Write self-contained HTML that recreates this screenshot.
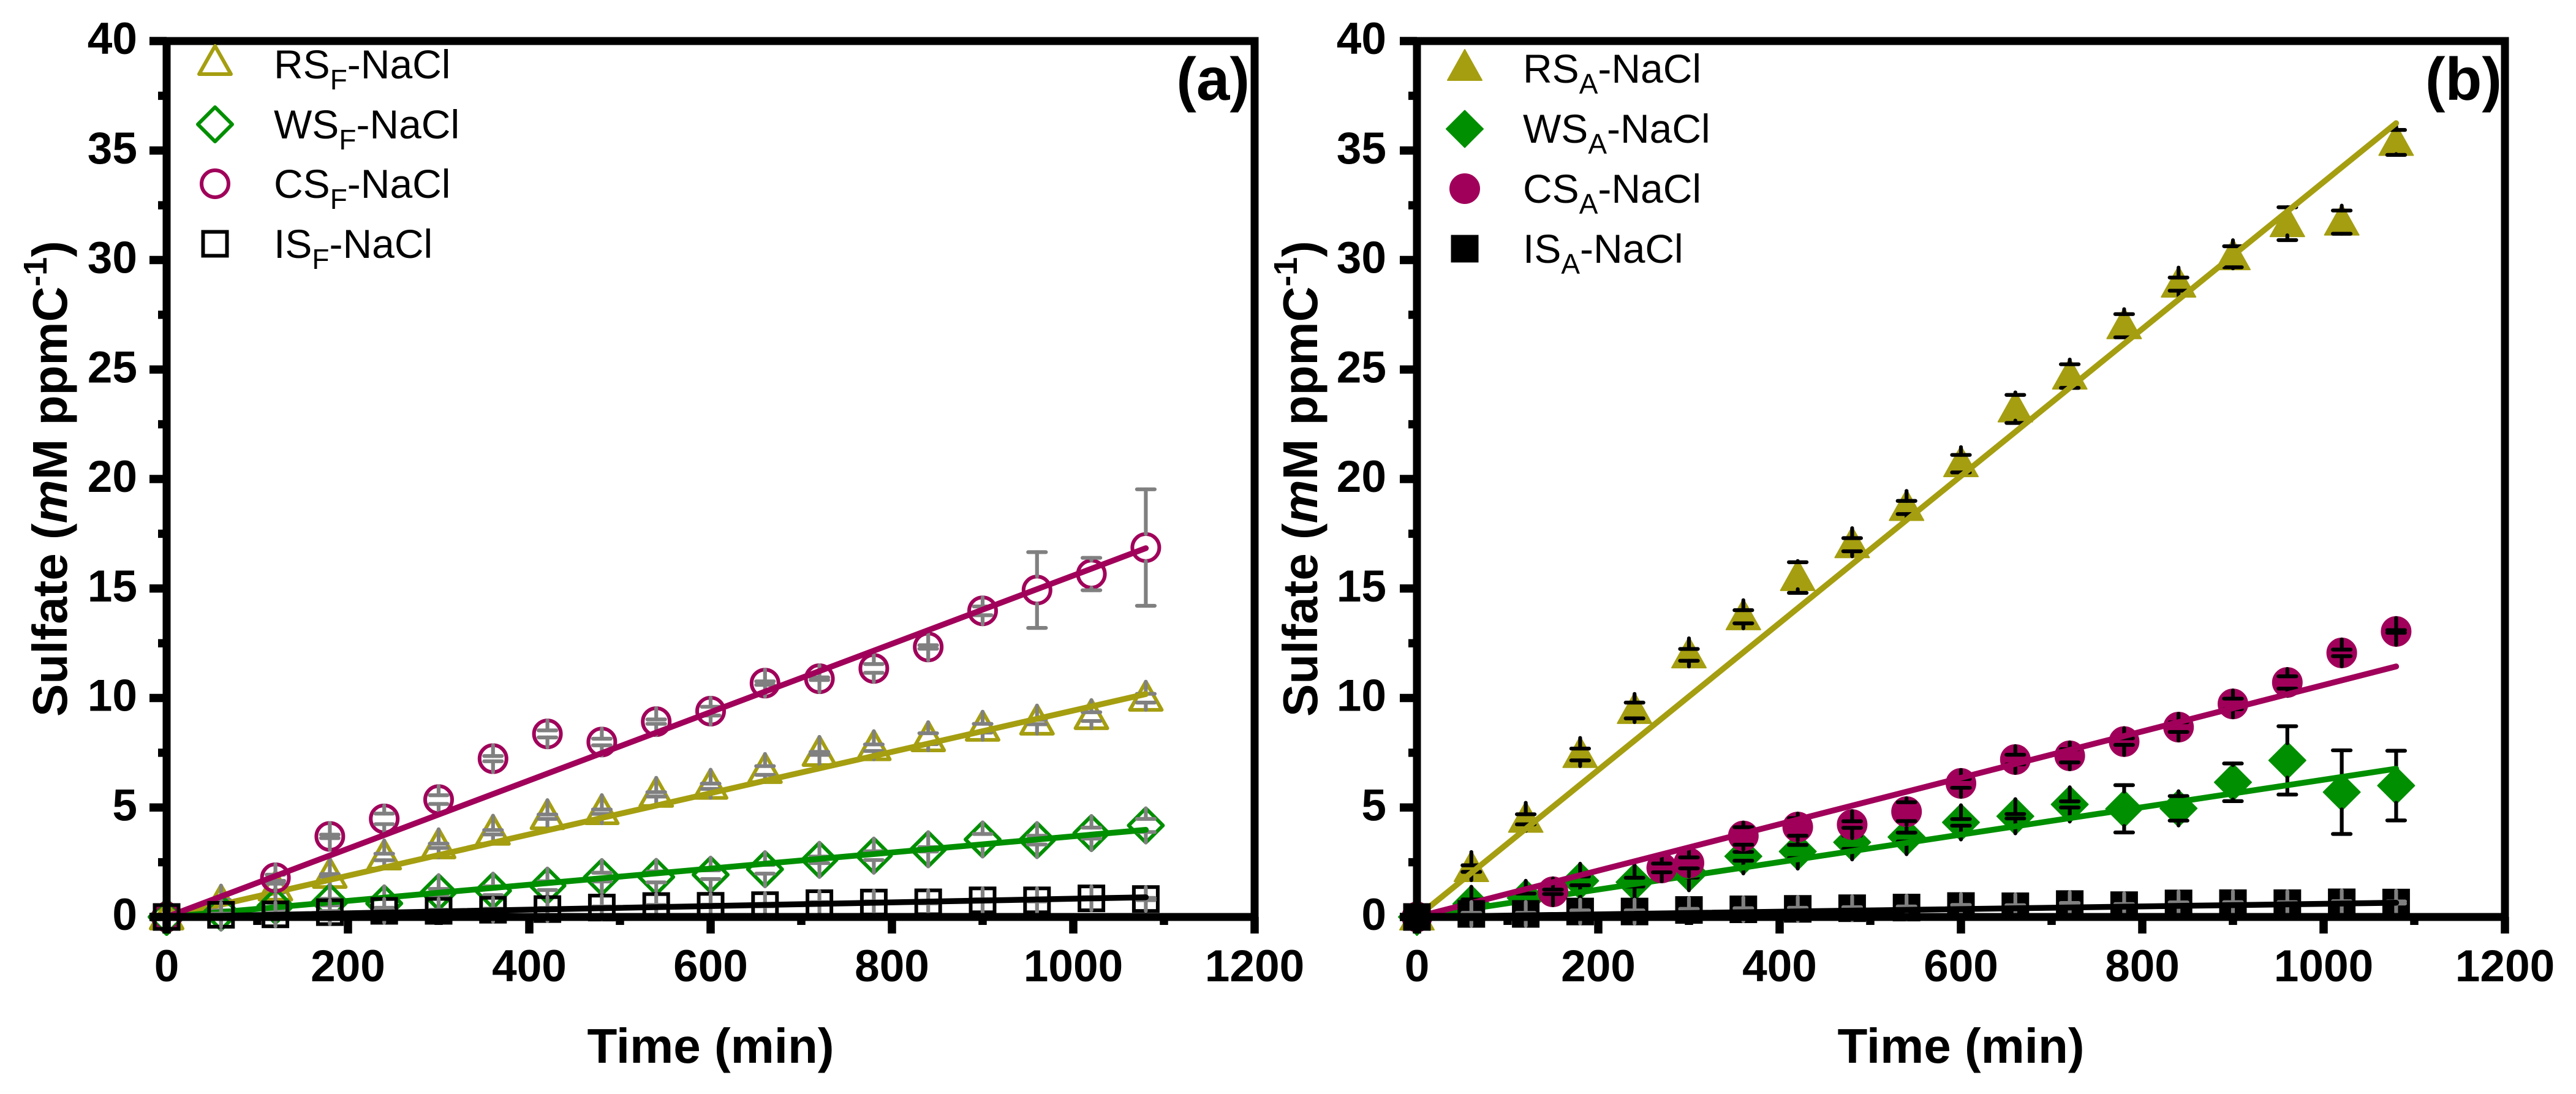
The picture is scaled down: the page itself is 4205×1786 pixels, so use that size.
<!DOCTYPE html>
<html lang="en">
<head>
<meta charset="utf-8">
<title>Sulfate versus time, panels a and b</title>
<style>
html,body{margin:0;padding:0;background:#fff;}
svg{display:block;}
text{font-family:"Liberation Sans",Arial,sans-serif;fill:#000;}
.tick{font-weight:700;font-size:73px;}
.title{font-weight:700;font-size:80px;}
.leg{font-size:66px;}
.panel{font-weight:700;font-size:98px;}
</style>
</head>
<body>
<svg id="chart" xmlns="http://www.w3.org/2000/svg" width="4205" height="1786" viewBox="0 0 4205 1786">
  <rect x="0" y="0" width="4205" height="1786" fill="#fff"/>
  <g id="panelA"></g>
  <g id="panelB"></g>

  <text class="title" x="1160" y="1735" text-anchor="middle">Time (min)</text>
  <text class="title" x="3201" y="1735" text-anchor="middle">Time (min)</text>
  <text class="title" transform="translate(109 781.5) rotate(-90)" text-anchor="middle">Sulfate (<tspan font-style="italic">m</tspan>M ppmC<tspan font-size="54" dy="-33">-1</tspan><tspan dy="33">)</tspan></text>
  <text class="title" transform="translate(2150 781.5) rotate(-90)" text-anchor="middle">Sulfate (<tspan font-style="italic">m</tspan>M ppmC<tspan font-size="54" dy="-33">-1</tspan><tspan dy="33">)</tspan></text>

  <text class="panel" x="2040" y="163" text-anchor="end">(a)</text>
  <text class="panel" x="4084" y="163" text-anchor="end">(b)</text>

  <g id="legendA">
    <text class="leg" x="447" y="128">RS<tspan font-size="46" dy="18">F</tspan><tspan dy="-18">-NaCl</tspan></text>
    <text class="leg" x="447" y="226">WS<tspan font-size="46" dy="18">F</tspan><tspan dy="-18">-NaCl</tspan></text>
    <text class="leg" x="447" y="323">CS<tspan font-size="46" dy="18">F</tspan><tspan dy="-18">-NaCl</tspan></text>
    <text class="leg" x="447" y="421">IS<tspan font-size="46" dy="18">F</tspan><tspan dy="-18">-NaCl</tspan></text>
  </g>
  <g id="legendB">
    <text class="leg" x="2486" y="135">RS<tspan font-size="46" dy="18">A</tspan><tspan dy="-18">-NaCl</tspan></text>
    <text class="leg" x="2486" y="233">WS<tspan font-size="46" dy="18">A</tspan><tspan dy="-18">-NaCl</tspan></text>
    <text class="leg" x="2486" y="331">CS<tspan font-size="46" dy="18">A</tspan><tspan dy="-18">-NaCl</tspan></text>
    <text class="leg" x="2486" y="429">IS<tspan font-size="46" dy="18">A</tspan><tspan dy="-18">-NaCl</tspan></text>
  </g>
</svg>

<script>
// ---------- axis tick data ----------
const xMajorTicks = [0, 200, 400, 600, 800, 1000, 1200];
const xMinorTicks = [100, 300, 500, 700, 900, 1100];
const yMajorTicks = [0, 5, 10, 15, 20, 25, 30, 35, 40];
const yMinorTicks = [2.5, 7.5, 12.5, 17.5, 22.5, 27.5, 32.5, 37.5];

// ---------- shared sampling times (min) ----------
const timeMin = [0, 60, 120, 180, 240, 300, 360, 420, 480, 540, 600, 660, 720, 780, 840, 900, 960, 1020, 1080];
const csFTime = [0, 120, 180, 240, 300, 360, 420, 480, 540, 600, 660, 720, 780, 840, 900, 960, 1020, 1080];
const csATime = [0, 150, 270, 300, 360, 420, 480, 540, 600, 660, 720, 780, 840, 900, 960, 1020, 1080];
const fitTime = [0, 1080];

// ---------- panel (a) series ----------
const rsFValues = [0, 0.68, 1.32, 1.9, 2.74, 3.25, 3.87, 4.58, 4.81, 5.6, 5.97, 6.69, 7.47, 7.73, 8.14, 8.62, 8.9, 9.15, 9.99];
const rsFErrors = [0, 0.1, 0.2, 0.06, 0.15, 0.1, 0.1, 0.1, 0.1, 0.1, 0.12, 0.2, 0.07, 0.15, 0.25, 0.2, 0.1, 0.2, 0.2];
const rsFFit = [0, 10.18];
const wsFValues = [0, 0.2, 0.5, 0.68, 0.62, 1.13, 1.2, 1.43, 1.82, 1.83, 1.93, 2.18, 2.61, 2.8, 3.09, 3.54, 3.51, 3.83, 4.18];
const wsFErrors = [0, 0.1, 0.15, 0.15, 0.2, 0.15, 0.2, 0.2, 0.2, 0.25, 0.2, 0.2, 0.15, 0.2, 0.1, 0.25, 0.2, 0.25, 0.3];
const wsFFit = [0, 3.98];
const csFValues = [0, 1.79, 3.68, 4.48, 5.36, 7.23, 8.36, 7.99, 8.92, 9.4, 10.68, 10.88, 11.35, 12.33, 13.98, 14.93, 15.66, 16.87];
const csFErrors = [0, 0.14, 0.08, 0.24, 0.2, 0.12, 0.16, 0.15, 0.1, 0.2, 0.08, 0.06, 0.2, 0.08, 0.2, 1.73, 0.74, 2.66];
const csFFit = [0, 16.84];
const isFValues = [0, 0.1, 0.12, 0.22, 0.28, 0.28, 0.33, 0.36, 0.43, 0.5, 0.51, 0.54, 0.63, 0.66, 0.67, 0.76, 0.76, 0.85, 0.82];
const isFErrors = [0, 0.05, 0.05, 0.05, 0.05, 0.05, 0.05, 0.05, 0.05, 0.05, 0.05, 0.05, 0.05, 0.05, 0.05, 0.05, 0.05, 0.05, 0.05];
const isFFit = [0, 0.9];

// ---------- panel (b) series ----------
const rsAValues = [0, 2.21, 4.46, 7.42, 9.43, 11.97, 13.71, 15.5, 17, 18.7, 20.7, 23.2, 24.7, 27, 28.9, 30.15, 31.66, 31.73, 35.37];
const rsAErrors = [0, 0.15, 0.23, 0.27, 0.36, 0.27, 0.3, 0.7, 0.3, 0.3, 0.4, 0.64, 0.54, 0.53, 0.3, 0.48, 0.75, 0.53, 0.57];
const rsAFit = [0, 36.25];
const wsAValues = [0, 0.6, 0.87, 1.65, 1.59, 2, 2.77, 2.99, 3.41, 3.65, 4.32, 4.6, 5.14, 4.94, 4.96, 6.15, 7.15, 5.7, 6];
const wsAErrors = [0, 0.2, 0.2, 0.2, 0.2, 0.2, 0.2, 0.3, 0.3, 0.2, 0.15, 0.1, 0.14, 1.08, 0.56, 0.86, 1.56, 1.91, 1.59];
const wsAFit = [0, 6.77];
const csAValues = [0, 1.15, 2.24, 2.47, 3.7, 4.11, 4.22, 4.81, 6.1, 7.19, 7.36, 8.01, 8.67, 9.73, 10.71, 12.06, 13.04];
const csAErrors = [0, 0.1, 0.2, 0.25, 0.4, 0.4, 0.15, 0.43, 0.2, 0.22, 0.3, 0.15, 0.22, 0.24, 0.28, 0.15, 0.06];
const csAFit = [0, 11.44];
const isAValues = [0, 0.14, 0.14, 0.25, 0.25, 0.32, 0.35, 0.37, 0.4, 0.43, 0.5, 0.49, 0.59, 0.54, 0.62, 0.63, 0.63, 0.67, 0.66];
const isAErrors = [0, 0.05, 0.05, 0.05, 0.05, 0.05, 0.05, 0.05, 0.05, 0.05, 0.05, 0.05, 0.05, 0.05, 0.05, 0.05, 0.05, 0.05, 0.05];
const isAFit = [0, 0.65];

const GOLD = '#a59e10', GREEN = '#008f00', PURPLE = '#a0005a', BLACK = '#000', GREY = '#808080';
const NS = 'http://www.w3.org/2000/svg';

function yScale(v) { return 1497 - v * 35.75; }
function make(tag, attrs, parent) {
  const e = document.createElementNS(NS, tag);
  for (const k in attrs) e.setAttribute(k, attrs[k]);
  parent.appendChild(e);
  return e;
}
function rule(x1, y1, x2, y2, w, color, cap, parent) {
  return make('line', {x1: x1, y1: y1, x2: x2, y2: y2, stroke: color, 'stroke-width': w, 'stroke-linecap': cap}, parent);
}

function drawMarker(kind, cx, cy, color, filled, parent) {
  const sw = filled ? 2 : 6;
  const style = {fill: filled ? color : 'none', stroke: color, 'stroke-width': sw, 'stroke-linejoin': 'round'};
  const inset = filled ? 1 : 3;
  let m;
  if (kind === 'triangle') {
    m = make('polygon', Object.assign({points: (cx) + ',' + (cy - 30 + inset) + ' ' + (cx + 29 - inset) + ',' + (cy + 22 - inset) + ' ' + (cx - 29 + inset) + ',' + (cy + 22 - inset)}, style), parent);
  } else if (kind === 'diamond') {
    const r = 31 - inset;
    m = make('polygon', Object.assign({points: cx + ',' + (cy - r) + ' ' + (cx + r) + ',' + cy + ' ' + cx + ',' + (cy + r) + ' ' + (cx - r) + ',' + cy}, style), parent);
  } else if (kind === 'circle') {
    m = make('circle', Object.assign({cx: cx, cy: cy, r: 25 - inset}, style), parent);
  } else {
    const h = 22.5 - inset;
    m = make('rect', Object.assign({x: cx - h, y: cy - h, width: 2 * h, height: 2 * h}, style), parent);
    m.setAttribute('stroke-linejoin', 'miter');
  }
  return m;
}
function markerExtent(kind) {
  if (kind === 'triangle') return [27, 19];
  if (kind === 'diamond') return [28, 28];
  if (kind === 'circle') return [22, 22];
  return [19.5, 19.5];
}

function drawSeries(parent, x0, key, kind, color, filled, errColor, times, values, errors, fit) {
  const xScale = function (t) { return x0 + t * 1.48; };
  const group = make('g', {}, parent);
  
  
  const ext = markerExtent(kind);
  values.forEach(function (v, i) {
    const cx = xScale(times[i]), cy = yScale(v), e = errors[i] * 35.75;
    const mark = drawMarker(kind, cx, cy, color, filled, group);
    
    
    if (errors[i] > 0) {
      const bar = make('g', {}, group);
      
      
      rule(cx, cy - ext[0], cx, cy - e, 6.2, errColor, 'round', bar);
      rule(cx, cy + ext[1], cx, cy + e, 6.2, errColor, 'round', bar);
      rule(cx - 14.5, cy - e, cx + 14.5, cy - e, 6.2, errColor, 'round', bar);
      rule(cx - 14.5, cy + e, cx + 14.5, cy + e, 6.2, errColor, 'round', bar);
    }
  });
  const fitLine = rule(xScale(fitTime[0]), yScale(fit[0]), xScale(fitTime[1]), yScale(fit[1]), 9.5, color, 'round', group);
  
  
}

function drawAxes(parent, x0, labelRight, prefix) {
  const xScale = function (t) { return x0 + t * 1.48; };
  const axes = make('g', {}, parent);
  
  
  const left = xScale(0), right = xScale(1200), top = yScale(40), bottom = yScale(0);
  const frame = make('rect', {x: left, y: top, width: right - left, height: bottom - top, fill: 'none', stroke: '#000', 'stroke-width': 13}, axes);
  
  
  xMajorTicks.forEach(function (t) {
    const x = xScale(t);
    const tk = rule(x, bottom, x, 1524, 13.5, '#000', 'butt', axes);
    
    
    const lb = make('text', {class: 'tick', x: x, y: 1602, 'text-anchor': 'middle'}, axes);
    lb.textContent = String(t);
    
    
  });
  xMinorTicks.forEach(function (t) {
    const x = xScale(t);
    const tk = rule(x, bottom, x, 1510, 13.5, '#000', 'butt', axes);
    
    
  });
  yMajorTicks.forEach(function (v) {
    const y = yScale(v);
    const tk = rule(left, y, left - 28, y, 13.5, '#000', 'butt', axes);
    
    
    const lb = make('text', {class: 'tick', x: labelRight, y: y + 21, 'text-anchor': 'end'}, axes);
    lb.textContent = String(v);
    
    
  });
  yMinorTicks.forEach(function (v) {
    const y = yScale(v);
    const tk = rule(left, y, left - 14, y, 13.5, '#000', 'butt', axes);
    
    
  });
}

const panelA = document.getElementById('panelA');
const panelB = document.getElementById('panelB');
const AX = 272, BX = 2313;

drawSeries(panelA, AX, 'rsf-nacl', 'triangle', GOLD, false, GREY, timeMin, rsFValues, rsFErrors, rsFFit);
drawSeries(panelA, AX, 'wsf-nacl', 'diamond', GREEN, false, GREY, timeMin, wsFValues, wsFErrors, wsFFit);
drawSeries(panelA, AX, 'csf-nacl', 'circle', PURPLE, false, GREY, csFTime, csFValues, csFErrors, csFFit);
drawSeries(panelA, AX, 'isf-nacl', 'square', BLACK, false, GREY, timeMin, isFValues, isFErrors, isFFit);
drawAxes(panelA, AX, 224, 'panel-a');

drawSeries(panelB, BX, 'rsa-nacl', 'triangle', GOLD, true, BLACK, timeMin, rsAValues, rsAErrors, rsAFit);
drawSeries(panelB, BX, 'wsa-nacl', 'diamond', GREEN, true, BLACK, timeMin, wsAValues, wsAErrors, wsAFit);
drawSeries(panelB, BX, 'csa-nacl', 'circle', PURPLE, true, BLACK, csATime, csAValues, csAErrors, csAFit);
drawSeries(panelB, BX, 'isa-nacl', 'square', BLACK, true, GREY, timeMin, isAValues, isAErrors, isAFit);
drawAxes(panelB, BX, 2263, 'panel-b');

const legendA = document.getElementById('legendA');
const legendB = document.getElementById('legendB');
const symRsF = drawMarker('triangle', 351, 102, GOLD, false, legendA);


const symWsF = drawMarker('diamond', 351, 203, GREEN, false, legendA);


const symCsF = drawMarker('circle', 351, 300, PURPLE, false, legendA);


const symIsF = drawMarker('square', 351, 398, BLACK, false, legendA);


const symRsA = drawMarker('triangle', 2391, 110, GOLD, true, legendB);


const symWsA = drawMarker('diamond', 2391, 210.5, GREEN, true, legendB);


const symCsA = drawMarker('circle', 2391, 308, PURPLE, true, legendB);


const symIsA = drawMarker('square', 2391, 406, BLACK, true, legendB);


</script>
</body>
</html>
